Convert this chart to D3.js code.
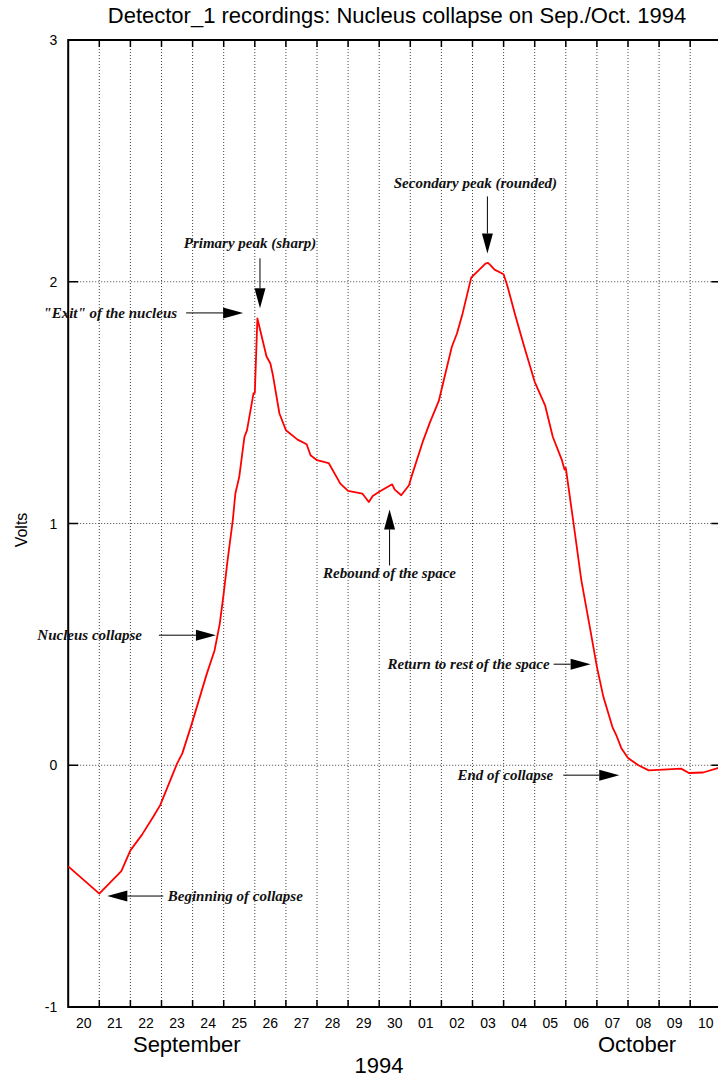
<!DOCTYPE html>
<html>
<head>
<meta charset="utf-8">
<script src="https://cdn.jsdelivr.net/npm/d3@7"></script>
<style>
  html, body { margin: 0; padding: 0; background: #fff; }
  svg { display: block; }
</style>
</head>
<body>
<svg id="chart" width="718" height="1078"></svg>
<script>
// Detector_1 voltage readings, Sep/Oct 1994 (time stamp, volts)
const times = [
  "1994-09-20 00:00","1994-09-21 00:00","1994-09-21 17:00","1994-09-22 00:00","1994-09-22 09:00",
  "1994-09-22 18:00","1994-09-22 23:00","1994-09-23 12:00","1994-09-23 16:00","1994-09-23 23:00",
  "1994-09-24 11:00","1994-09-24 17:00","1994-09-24 21:00","1994-09-25 00:00","1994-09-25 03:00",
  "1994-09-25 07:00","1994-09-25 09:00","1994-09-25 12:00","1994-09-25 16:00","1994-09-25 18:00",
  "1994-09-25 23:00","1994-09-26 00:00","1994-09-26 02:00","1994-09-26 09:00","1994-09-26 12:00",
  "1994-09-26 14:00","1994-09-26 19:00","1994-09-27 00:00","1994-09-27 09:00","1994-09-27 16:00",
  "1994-09-27 19:00","1994-09-28 00:00","1994-09-28 09:00","1994-09-28 18:00","1994-09-29 00:00",
  "1994-09-29 11:00","1994-09-29 16:00","1994-09-29 19:00","1994-09-30 00:00","1994-09-30 10:00",
  "1994-09-30 12:00","1994-09-30 17:00","1994-09-30 23:00","1994-10-01 01:00","1994-10-01 10:00",
  "1994-10-01 15:00","1994-10-01 22:00","1994-10-02 08:00","1994-10-02 12:00","1994-10-02 16:00",
  "1994-10-02 23:00","1994-10-03 10:00","1994-10-03 12:00","1994-10-03 14:00","1994-10-03 17:00",
  "1994-10-04 00:00","1994-10-04 03:00","1994-10-04 09:00","1994-10-04 16:00","1994-10-05 00:00",
  "1994-10-05 08:00","1994-10-05 14:00","1994-10-05 21:00","1994-10-05 23:00","1994-10-06 00:00",
  "1994-10-06 06:00","1994-10-06 12:00","1994-10-06 19:00","1994-10-07 00:00","1994-10-07 05:00",
  "1994-10-07 12:00","1994-10-07 15:00","1994-10-07 19:00","1994-10-08 00:00","1994-10-08 08:00",
  "1994-10-08 16:00","1994-10-09 03:00","1994-10-09 17:00","1994-10-09 23:00","1994-10-10 10:00",
  "1994-10-10 20:00","1994-10-10 22:00"
];
const volts = [
  -0.418,-0.531,-0.438,-0.352,-0.287,
  -0.210,-0.165, 0.007, 0.048, 0.165,
   0.379, 0.476, 0.587, 0.711, 0.848,
   1.013, 1.124, 1.193, 1.358, 1.386,
   1.538, 1.540, 1.848, 1.692, 1.662,
   1.613, 1.455, 1.386, 1.347, 1.328,
   1.282, 1.262, 1.250, 1.165, 1.135,
   1.124, 1.089, 1.114, 1.131, 1.162,
   1.140, 1.117, 1.158, 1.195, 1.344,
   1.416, 1.507, 1.730, 1.786, 1.861,
   2.017, 2.075, 2.078, 2.068, 2.050,
   2.031, 1.981, 1.861, 1.730, 1.586,
   1.489, 1.358, 1.262, 1.223, 1.230,
   1.000, 0.765, 0.558, 0.407, 0.283,
   0.158, 0.124, 0.069, 0.030, 0.000,
  -0.021,-0.018,-0.014,-0.032,-0.030,
  -0.014,-0.010
];
const yTicks = [-1, 0, 1, 2, 3];
const yGrid = [0, 1, 2];
const monthLabels = [
  { at: "1994-09-23 19:30", text: "September" },
  { at: "1994-10-08 07:00", text: "October" }
];
// Annotation callouts: arrow tip on the time/volt plane, arrow direction and length,
// gap between label and arrow tail, horizontal label shift for vertical arrows
const notes = [
  { text: "Primary peak (sharp)",        at: "1994-09-26 04:00", v: 1.890,  dir: "down",  len: 50, gap: 10.5, dx: -10 },
  { text: "\"Exit\" of the nucleus",     at: "1994-09-25 15:00", v: 1.871,  dir: "right", len: 57, gap: 9 },
  { text: "Secondary peak (rounded)",    at: "1994-10-03 11:30", v: 2.117,  dir: "down",  len: 57, gap: 8, dx: -12 },
  { text: "Rebound of the space",        at: "1994-09-30 08:00", v: 1.058,  dir: "up",    len: 56, gap: 13, dx: 0 },
  { text: "Nucleus collapse",            at: "1994-09-24 18:00", v: 0.538,  dir: "right", len: 57, gap: 17 },
  { text: "Return to rest of the space", at: "1994-10-06 19:10", v: 0.418,  dir: "right", len: 37, gap: 4 },
  { text: "End of collapse",             at: "1994-10-07 17:15", v: -0.041, dir: "right", len: 56, gap: 10 },
  { text: "Beginning of collapse",       at: "1994-09-21 06:10", v: -0.541, dir: "left",  len: 56, gap: 4.5 }
];

const parse = d3.timeParse("%Y-%m-%d %H:%M");
const data = times.map((t, i) => ({ t: parse(t), v: volts[i] }));

const svg = d3.select("#chart");
const L = 68.2, R = 721.3, T = 40, B = 1007;
const start = parse("1994-09-20 00:00"), end = parse("1994-10-11 00:00");
const x = d3.scaleTime().domain([start, end]).range([L, R]);
const y = d3.scaleLinear().domain([-1, 3]).range([B, T]);

const sans = "'Liberation Sans', Arial, Helvetica, sans-serif";
const serif = "'Liberation Serif', 'Times New Roman', Times, serif";

// Title
svg.append("text")
  .attr("x", 397).attr("y", 23)
  .attr("text-anchor", "middle")
  .attr("font-family", sans).attr("font-size", 22)
  .text("Detector_1 recordings: Nucleus collapse on Sep./Oct. 1994");

// Day boundaries (vertical dotted grid)
const dayEdges = d3.timeDay.range(d3.timeDay.offset(start, 1), end);
svg.append("g").selectAll("line").data(dayEdges).join("line")
  .attr("x1", d => x(d)).attr("x2", d => x(d))
  .attr("y1", T).attr("y2", B)
  .attr("stroke", "#444").attr("stroke-width", 1)
  .attr("stroke-dasharray", "1,2");

// Horizontal dotted grid
svg.append("g").selectAll("line").data(yGrid).join("line")
  .attr("x1", L).attr("x2", R)
  .attr("y1", d => y(d)).attr("y2", d => y(d))
  .attr("stroke", "#444").attr("stroke-width", 1)
  .attr("stroke-dasharray", "1,2");

// Frame
svg.append("rect")
  .attr("x", L).attr("y", T).attr("width", R - L).attr("height", B - T)
  .attr("fill", "none").attr("stroke", "#000").attr("stroke-width", 2);

// Inward ticks on top and bottom at each day boundary
const tickG = svg.append("g").attr("stroke", "#000").attr("stroke-width", 1.5);
tickG.selectAll(".tt").data(dayEdges).join("line")
  .attr("x1", d => x(d)).attr("x2", d => x(d)).attr("y1", T).attr("y2", T + 7);
tickG.selectAll(".tb").data(dayEdges).join("line")
  .attr("x1", d => x(d)).attr("x2", d => x(d)).attr("y1", B).attr("y2", B - 7);
// Inward ticks on left and right for each volt
tickG.selectAll(".tl").data(yTicks).join("line")
  .attr("x1", L).attr("x2", L + 10).attr("y1", d => y(d)).attr("y2", d => y(d));
tickG.selectAll(".tr").data(yTicks).join("line")
  .attr("x1", R).attr("x2", R - 10).attr("y1", d => y(d)).attr("y2", d => y(d));

// Y tick labels
svg.append("g").selectAll("text").data(yTicks).join("text")
  .attr("x", L - 11).attr("y", d => y(d) + 5)
  .attr("text-anchor", "end")
  .attr("font-family", sans).attr("font-size", 14)
  .text(d => d);

// Day labels, centred in each day
const dayStarts = d3.timeDay.range(start, end);
svg.append("g").selectAll("text").data(dayStarts).join("text")
  .attr("x", d => x(d3.timeHour.offset(d, 12)))
  .attr("y", 1028)
  .attr("text-anchor", "middle")
  .attr("font-family", sans).attr("font-size", 14)
  .text(d3.timeFormat("%d"));

// Month and year labels
svg.append("g").selectAll("text").data(monthLabels).join("text")
  .attr("x", d => x(parse(d.at)))
  .attr("y", 1052)
  .attr("text-anchor", "middle")
  .attr("font-family", sans).attr("font-size", 22)
  .text(d => d.text);
svg.append("text")
  .attr("x", 379).attr("y", 1073)
  .attr("text-anchor", "middle")
  .attr("font-family", sans).attr("font-size", 22)
  .text("1994");

// Y axis title
svg.append("text")
  .attr("transform", "translate(27,530) rotate(-90)")
  .attr("text-anchor", "middle")
  .attr("font-family", sans).attr("font-size", 16)
  .text("Volts");

// Signal
svg.append("path")
  .datum(data)
  .attr("fill", "none")
  .attr("stroke", "#ff0000")
  .attr("stroke-width", 1.8)
  .attr("stroke-linejoin", "round")
  .attr("d", d3.line().x(d => x(d.t)).y(d => y(d.v)));

// Annotations
const annG = svg.append("g");
const headLen = 20, headHalf = 5.5;
notes.forEach(n => {
  const tx = x(parse(n.at)), ty = y(n.v);
  let ux = 0, uy = 0;
  if (n.dir === "right") ux = 1;
  if (n.dir === "left") ux = -1;
  if (n.dir === "down") uy = 1;
  if (n.dir === "up") uy = -1;
  const sx = tx - ux * n.len, sy = ty - uy * n.len;
  const bx = tx - ux * headLen, by = ty - uy * headLen;
  annG.append("line")
    .attr("x1", sx).attr("y1", sy).attr("x2", bx).attr("y2", by)
    .attr("stroke", "#000").attr("stroke-width", 1);
  const px = -uy, py = ux;
  annG.append("path")
    .attr("d", `M${tx},${ty}L${bx + px * headHalf},${by + py * headHalf}L${bx - px * headHalf},${by - py * headHalf}Z`)
    .attr("fill", "#000");
  const label = annG.append("text")
    .attr("font-family", serif).attr("font-size", 15)
    .attr("font-weight", "bold").attr("font-style", "italic")
    .attr("fill", "#111")
    .text(n.text);
  if (n.dir === "right") {
    label.attr("x", sx - n.gap).attr("y", sy + 5).attr("text-anchor", "end");
  } else if (n.dir === "left") {
    label.attr("x", sx + n.gap).attr("y", sy + 5).attr("text-anchor", "start");
  } else if (n.dir === "down") {
    label.attr("x", sx + n.dx).attr("y", sy - n.gap).attr("text-anchor", "middle");
  } else {
    label.attr("x", sx + n.dx).attr("y", sy + n.gap).attr("text-anchor", "middle");
  }
});
</script>
</body>
</html>
